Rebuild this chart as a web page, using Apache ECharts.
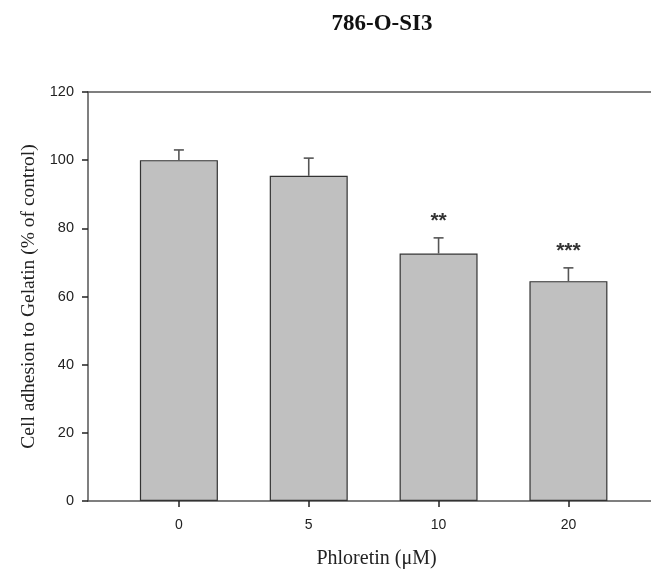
<!DOCTYPE html>
<html>
<head>
<meta charset="utf-8">
<script src="https://cdn.jsdelivr.net/npm/echarts@6/dist/echarts.min.js"></script>
<style>
  html, body { margin: 0; padding: 0; background: #fff; }
  #chart { width: 651px; height: 574px; }
</style>
</head>
<body>
<div id="chart"></div>
<script>
// Phloretin dose groups and measured adhesion (% of control)
const categories = ['0', '5', '10', '20'];
const meanValues = [100, 95.4, 72.6, 64.5];
const errorUpper = [103.0, 100.6, 77.2, 68.4];
const significance = ['', '', '**', '***'];
const yTicks = [0, 20, 40, 60, 80, 100, 120];

const idx = categories.map((_, i) => i);
const barData = idx.map(i => [i, meanValues[i]]);
const errData = idx.map(i => [i, meanValues[i], errorUpper[i], significance[i]]);

const axisColor = '#555';
const chart = echarts.init(document.getElementById('chart'));

chart.setOption({
  animation: false,
  backgroundColor: '#fff',
  title: {
    text: '786-O-SI3',
    left: 377, top: 8,
    textAlign: 'center',
    textStyle: { fontFamily: 'Liberation Serif', fontWeight: 'bold', fontSize: 23, color: '#111' }
  },
  grid: { left: 88, right: 0, top: 92, bottom: 72 },
  xAxis: [{
    type: 'value',
    min: -0.70, max: 3.636,
    name: 'Phloretin (\u03bcM)',
    nameLocation: 'middle',
    nameGap: 48,
    nameTextStyle: { fontFamily: 'Liberation Serif', fontSize: 20, color: '#222', padding: [0, 0, 0, 14] },
    axisLine: { show: true, onZero: false, lineStyle: { color: axisColor, width: 1.5 } },
    axisTick: { show: true, inside: false, length: 6, customValues: idx, lineStyle: { color: '#222', width: 1.5 } },
    axisLabel: {
      customValues: idx, margin: 17,
      formatter: v => categories[Math.round(v)] ?? '',
      fontFamily: 'Liberation Sans', fontSize: 14, color: '#222'
    },
    splitLine: { show: false }
  }, {
    type: 'value', position: 'top',
    min: -0.70, max: 3.636,
    axisLine: { show: true, onZero: false, lineStyle: { color: axisColor, width: 1.5 } },
    axisTick: { show: false }, axisLabel: { show: false }, splitLine: { show: false }
  }],
  yAxis: {
    type: 'value',
    min: 0, max: 120, interval: 20,
    name: 'Cell adhesion to Gelatin (% of control)',
    nameLocation: 'middle',
    nameGap: 46,
    nameTextStyle: { fontFamily: 'Liberation Serif', fontSize: 19.5, color: '#222' },
    axisLine: { show: true, onZero: false, lineStyle: { color: axisColor, width: 1.5 } },
    axisTick: { show: true, inside: false, length: 6, lineStyle: { color: '#222', width: 1.5 } },
    axisLabel: {
      margin: 14,
      formatter: v => yTicks.includes(v) ? String(v) : '',
      fontFamily: 'Liberation Sans', fontSize: 14.5, color: '#222'
    },
    splitLine: { show: false }
  },
  series: [{
    type: 'bar',
    data: barData,
    barWidth: 78,
    itemStyle: { color: '#c0c0c0', borderColor: '#333', borderWidth: 1.2 },
    z: 2
  }, {
    type: 'custom',
    data: errData,
    z: 3,
    renderItem: (params, api) => {
      const x = api.value(0);
      const base = api.coord([x, api.value(1)]);
      const top = api.coord([x, api.value(2)]);
      const cap = 5;
      const stars = errData[params.dataIndex][3];
      const lineStyle = { stroke: '#555', lineWidth: 1.6 };
      const children = [
        { type: 'line', shape: { x1: base[0], y1: base[1], x2: top[0], y2: top[1] }, style: lineStyle },
        { type: 'line', shape: { x1: top[0] - cap, y1: top[1], x2: top[0] + cap, y2: top[1] }, style: lineStyle }
      ];
      if (stars) {
        children.push({
          type: 'text',
          style: {
            text: stars, x: top[0], y: top[1] - 17,
            textAlign: 'center', textVerticalAlign: 'middle',
            font: 'bold 21px "Liberation Sans"', fill: '#333'
          }
        });
      }
      return { type: 'group', children };
    }
  }]
});
</script>
</body>
</html>
